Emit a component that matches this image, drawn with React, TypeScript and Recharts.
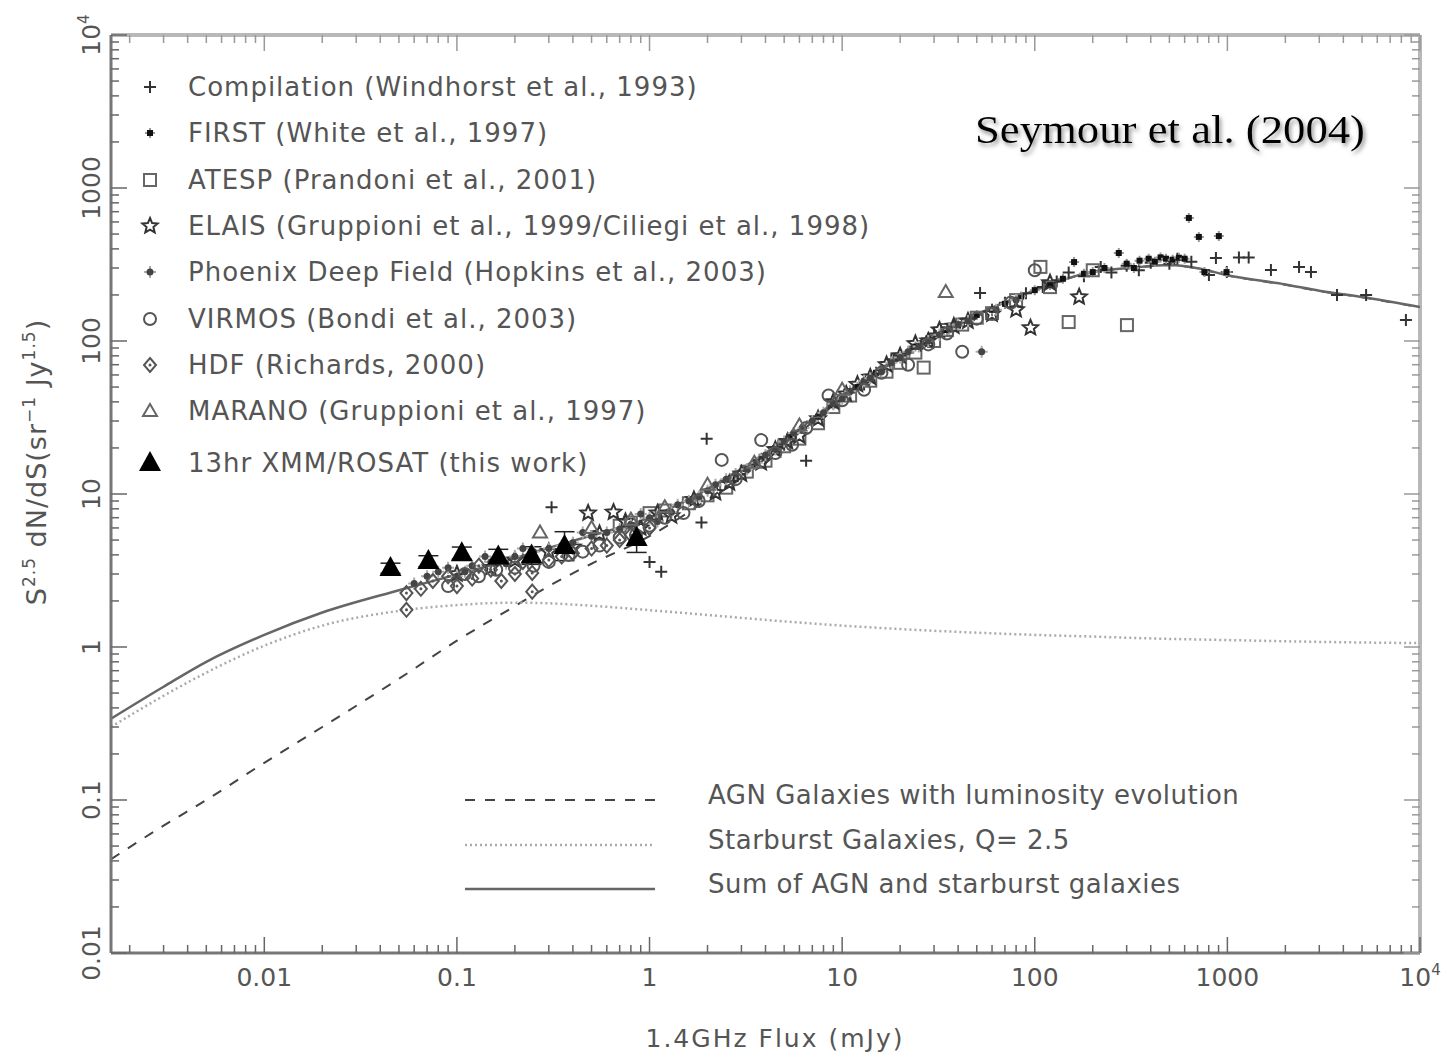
import React from "react";
import {
  ComposedChart,
  Scatter,
  Line,
  XAxis,
  YAxis,
  ReferenceLine,
  ErrorBar,
  Legend,
} from "recharts";

const WIDTH = 1449;
const HEIGHT = 1054;
// plot box, page pixels
const PLOT_LEFT = 111;
const PLOT_TOP = 35;
const PLOT_RIGHT = 1420;
const PLOT_BOTTOM = 953;

const FONT = "'DejaVu Sans', sans-serif";
const TEXT = "#555";
const INK = "#333";

const X_DOMAIN = [0.0016, 10000];
const Y_DOMAIN = [0.01, 10000];

// model curves (flux in mJy, Euclidean-normalised counts)
const modelFlux = [
  0.0016, 0.003, 0.005, 0.01, 0.02, 0.05, 0.1, 0.2, 0.3, 0.5, 1, 2, 5, 10, 20,
  50, 100, 200, 300, 500, 700, 1000, 2000, 3000, 5000, 10000,
];
const agnCounts = [
  0.041, 0.068, 0.1, 0.175, 0.3, 0.62, 1.1, 1.85, 2.5, 3.5, 5.3, 9.2, 21, 42,
  78, 148, 213, 283, 298, 313, 298, 268, 233, 212, 193, 166,
];
const starburstCounts = [
  0.3, 0.48, 0.68, 1.02, 1.38, 1.72, 1.88, 1.95, 1.93, 1.86, 1.74, 1.62, 1.47,
  1.38, 1.31, 1.24, 1.2, 1.17, 1.15, 1.13, 1.12, 1.11, 1.09, 1.08, 1.07, 1.06,
];
const sumCounts = [
  0.34, 0.55, 0.8, 1.2, 1.68, 2.35, 2.98, 3.8, 4.45, 5.35, 7.0, 10.8, 22.5,
  43.4, 79.3, 149, 214, 284, 299, 314, 299, 269, 234, 213, 194, 167,
];

// source counts, [flux mJy, counts]
const windhorst = [
  [0.31, 8.2], [1.0, 3.6], [1.15, 3.1], [1.86, 6.5], [1.98, 23], [2.5, 12],
  [3, 13.5], [4, 17], [5, 21], [6.5, 16.5], [7, 30], [9, 40], [11, 46],
  [13, 52], [15, 62], [18, 76], [22, 84], [26, 96], [30, 112], [38, 125],
  [45, 140], [52, 206], [60, 160], [70, 178], [90, 205], [110, 225],
  [130, 245], [150, 280], [180, 265], [220, 305], [250, 280], [300, 310],
  [347, 290], [400, 325], [500, 320], [550, 345], [650, 330], [802, 270],
  [872, 349], [993, 282], [1148, 352], [1290, 352], [1683, 291], [2355, 305],
  [2716, 282], [3707, 200], [5250, 200], [8450, 137],
];
const first = [
  [2.8, 12.5], [3.5, 15.5], [4.5, 20], [5.5, 24], [7.5, 32], [9, 38],
  [12, 50], [15, 62], [19, 78], [24, 92], [28, 104], [35, 118], [40, 126],
  [50, 148], [60, 160], [70, 175], [85, 195], [100, 215], [120, 232],
  [140, 255], [160, 328], [180, 275], [200, 282], [230, 300], [273, 376],
  [300, 320], [327, 300], [350, 335], [390, 345], [420, 330], [450, 352],
  [480, 345], [520, 340], [560, 350], [600, 345], [631, 637], [711, 479],
  [760, 282], [903, 485], [990, 282],
];
const atesp = [
  [0.7, 6.2], [0.8, 6.5], [1.0, 7.5], [1.2, 7.8], [1.6, 8.7], [2, 9.8],
  [2.5, 11], [3.2, 14], [4, 16.5], [5, 20.5], [6, 23], [7.5, 29], [9, 37],
  [11, 44], [14, 55], [17, 63], [20, 72], [24, 84], [26.5, 67], [30, 100],
  [35, 118], [42, 128], [50, 142], [60, 152], [80, 185], [107, 305],
  [120, 225], [150, 133], [200, 290], [301, 127],
];
const elais = [
  [0.1, 3.0], [0.15, 3.3], [0.2, 3.7], [0.3, 4.2], [0.4, 4.5], [0.48, 7.5],
  [0.55, 5.5], [0.65, 7.6], [0.75, 6.6], [0.9, 6.0], [1.1, 7.5], [1.3, 7.2],
  [1.7, 9.2], [2.2, 10.2], [2.6, 11.8], [3.0, 13.5], [3.8, 16], [4.5, 19.5],
  [5.2, 22], [6, 24], [7.5, 31], [9, 40], [10.5, 45], [12, 52], [14, 58],
  [17, 70], [20, 80], [24, 96], [28, 100], [32, 118], [38, 125], [45, 135],
  [60, 150], [80, 160], [95, 122], [120, 240], [170, 194],
];
const phoenix = [
  [0.06, 2.6], [0.07, 2.9], [0.08, 3.1], [0.09, 3.3], [0.1, 2.9], [0.11, 3.1],
  [0.12, 3.4], [0.14, 3.9], [0.15, 3.6], [0.18, 3.5], [0.2, 3.9], [0.22, 4.4],
  [0.25, 4.2], [0.3, 4.4], [0.35, 4.6], [0.4, 4.8], [0.45, 5.6], [0.5, 5.3],
  [0.6, 5.6], [0.7, 5.9], [0.8, 6.3], [0.9, 7.4], [1.0, 7.0], [1.1, 6.6],
  [1.3, 7.6], [1.4, 8.5], [1.6, 9.0], [1.8, 9.6], [2.0, 10.5], [2.2, 11.5],
  [2.5, 12.5], [2.8, 13.5], [3.2, 14.5], [3.6, 16], [4, 18], [4.5, 19.5],
  [5, 22], [5.6, 25], [6.3, 27], [7, 30], [8, 34], [9, 39], [10, 42],
  [11, 47], [13, 55], [14, 57], [16, 63], [18, 72], [20, 78], [22, 85],
  [25, 92], [28, 100], [32, 110], [36, 120], [40, 128], [45, 135], [53, 85],
  [63, 160], [80, 185],
];
const virmos = [
  [0.09, 2.5], [0.11, 3.0], [0.13, 2.9], [0.16, 3.2], [0.2, 3.3],
  [0.25, 3.4], [0.3, 3.6], [0.38, 4.0], [0.45, 4.2], [0.55, 4.6],
  [0.7, 5.2], [0.85, 5.4], [1.0, 6.2], [1.2, 7], [1.5, 7.5], [1.8, 9],
  [2.37, 16.7], [2.8, 12.5], [3.8, 22.5], [4.5, 18.5], [5.5, 21],
  [6.5, 27], [8.5, 44], [10, 41], [13, 48], [16, 62], [22, 70], [28, 95],
  [35, 112], [42, 85], [50, 140], [60, 150], [75, 178], [100, 290],
];
const hdf = [
  [0.0547, 2.25], [0.0547, 1.75], [0.065, 2.4], [0.075, 2.7], [0.09, 2.9],
  [0.1, 2.5], [0.12, 2.8], [0.13, 3.4], [0.15, 3.2], [0.17, 2.7], [0.2, 3.0],
  [0.22, 3.6], [0.246, 3.05], [0.246, 2.3], [0.3, 3.7], [0.35, 3.9],
  [0.4, 4.1], [0.5, 4.4], [0.6, 4.6], [0.7, 5.0], [0.8, 5.4], [1.0, 6.0],
];
const marano = [
  [0.27, 5.6], [0.5, 6.0], [0.8, 6.8], [1.2, 8.2], [2, 11.5], [3.5, 16],
  [6, 28], [10, 48], [34.5, 209],
];
// this work, with 1-sigma errors [below, above]
const xmmFlux = [0.0452, 0.0711, 0.106, 0.164, 0.244, 0.362, 0.857];
const xmmCounts = [3.28, 3.65, 4.1, 3.9, 3.97, 4.57, 5.15];
const xmmErr = [
  [0.25, 0.25], [0.3, 0.3], [0.35, 0.4], [0.4, 0.45], [0.5, 0.55],
  [0.9, 1.1], [1.0, 1.2],
];

const toPoints = (rows: number[][]) => rows.map(([f, v]) => ({ f, v }));
const curve = (vals: number[]) => modelFlux.map((f, i) => ({ f, v: vals[i] }));
const xmmData = xmmFlux.map((f, i) => ({ f, v: xmmCounts[i], err: xmmErr[i] }));

// ---- marker shapes ----
type P = { cx?: number; cy?: number };
const plusShape = ({ cx = 0, cy = 0 }: P) => (
  <path d={`M${cx - 6},${cy}H${cx + 6}M${cx},${cy - 6}V${cy + 6}`} stroke={INK} strokeWidth={2} fill="none" />
);
const firstShape = ({ cx = 0, cy = 0 }: P) => (
  <g>
    <path d={`M${cx - 5},${cy}H${cx + 5}M${cx},${cy - 5}V${cy + 5}`} stroke="#999" strokeWidth={2} />
    <rect x={cx - 3} y={cy - 3} width={6} height={6} fill="#111" />
  </g>
);
const squareShape = ({ cx = 0, cy = 0 }: P) => (
  <rect x={cx - 6} y={cy - 6} width={12} height={12} fill="none" stroke="#666" strokeWidth={2} />
);
const starPath = (cx: number, cy: number, r: number) => {
  let d = "";
  for (let i = 0; i < 10; i++) {
    const rr = i % 2 === 0 ? r : r * 0.45;
    const a = -Math.PI / 2 + (i * Math.PI) / 5;
    d += `${i === 0 ? "M" : "L"}${cx + rr * Math.cos(a)},${cy + rr * Math.sin(a)}`;
  }
  return d + "Z";
};
const starShape = ({ cx = 0, cy = 0 }: P) => (
  <path d={starPath(cx, cy, 8)} fill="none" stroke={INK} strokeWidth={2} />
);
const phoenixShape = ({ cx = 0, cy = 0 }: P) => (
  <g>
    <path d={`M${cx - 6},${cy}H${cx + 6}M${cx},${cy - 6}V${cy + 6}`} stroke="#aaa" strokeWidth={2} />
    <circle cx={cx} cy={cy} r={3.5} fill="#444" />
  </g>
);
const circleShape = ({ cx = 0, cy = 0 }: P) => (
  <circle cx={cx} cy={cy} r={6} fill="none" stroke="#555" strokeWidth={2} />
);
const diamondShape = ({ cx = 0, cy = 0 }: P) => (
  <g>
    <path d={`M${cx},${cy - 7}L${cx + 6},${cy}L${cx},${cy + 7}L${cx - 6},${cy}Z`} fill="none" stroke="#555" strokeWidth={2} />
    <circle cx={cx} cy={cy} r={1.5} fill="#555" />
  </g>
);
const openTriShape = ({ cx = 0, cy = 0 }: P) => (
  <path d={`M${cx},${cy - 7}L${cx + 7},${cy + 5}L${cx - 7},${cy + 5}Z`} fill="none" stroke="#666" strokeWidth={2} />
);
const fillTriShape = ({ cx = 0, cy = 0 }: P) => (
  <path d={`M${cx},${cy - 12}L${cx + 11},${cy + 8}L${cx - 11},${cy + 8}Z`} fill="#000" />
);

const surveys = [
  { name: "Compilation (Windhorst et al., 1993)", data: windhorst, shape: plusShape },
  { name: "FIRST (White et al., 1997)", data: first, shape: firstShape },
  { name: "ATESP (Prandoni et al., 2001)", data: atesp, shape: squareShape },
  { name: "ELAIS (Gruppioni et al., 1999/Ciliegi et al., 1998)", data: elais, shape: starShape },
  { name: "Phoenix Deep Field (Hopkins et al., 2003)", data: phoenix, shape: phoenixShape },
  { name: "VIRMOS (Bondi et al., 2003)", data: virmos, shape: circleShape },
  { name: "HDF (Richards, 2000)", data: hdf, shape: diamondShape },
  { name: "MARANO (Gruppioni et al., 1997)", data: marano, shape: openTriShape },
];
const xmmName = "13hr XMM/ROSAT (this work)";

const models = [
  { name: "AGN Galaxies with luminosity evolution", vals: agnCounts, stroke: "#444", width: 2, dash: "10 10" },
  { name: "Starburst Galaxies, Q= 2.5", vals: starburstCounts, stroke: "#aaa", width: 2.5, dash: "2 3" },
  { name: "Sum of AGN and starburst galaxies", vals: sumCounts, stroke: "#666", width: 2.5, dash: undefined },
];

// ---- axes ----
const decadeTicks = (lo: number, hi: number) => {
  const out: number[] = [];
  for (let d = -3; d <= 4; d++) {
    for (let m = 1; m <= 9; m++) {
      const t = Number((m * Math.pow(10, d)).toPrecision(3));
      if (t >= lo && t <= hi) out.push(t);
    }
  }
  return out;
};
const xTicks = decadeTicks(X_DOMAIN[0], X_DOMAIN[1]);
const yTicks = decadeTicks(Y_DOMAIN[0], Y_DOMAIN[1]);
const majorLabels: Record<string, string> = {
  "0.01": "0.01", "0.1": "0.1", "1": "1", "10": "10", "100": "100", "1000": "1000",
};
const isMajor = (v: number) => Math.abs(Math.log10(v) - Math.round(Math.log10(v))) < 1e-6;

const tickLabel = (v: number) =>
  v === 10000 ? (
    <>
      10<tspan dy={-11} fontSize={15}>4</tspan>
    </>
  ) : (
    majorLabels[String(v)]
  );

const XTick = (props: any) => {
  const { x, payload } = props;
  const v = payload.value as number;
  const major = isMajor(v);
  const len = major ? 16 : 8;
  return (
    <g>
      <line x1={x} x2={x} y1={PLOT_BOTTOM} y2={PLOT_BOTTOM - len} stroke="#666" strokeWidth={1.5} />
      <line x1={x} x2={x} y1={PLOT_TOP} y2={PLOT_TOP + len} stroke="#999" strokeWidth={1.5} />
      {major && (
        <text x={x} y={PLOT_BOTTOM + 33} textAnchor="middle" fontSize={25} fill={TEXT} fontFamily={FONT}>
          {tickLabel(v)}
        </text>
      )}
    </g>
  );
};

const YTick = (props: any) => {
  const { y, payload } = props;
  const v = payload.value as number;
  const major = isMajor(v);
  const len = major ? 16 : 8;
  return (
    <g>
      <line x1={PLOT_LEFT} x2={PLOT_LEFT + len} y1={y} y2={y} stroke="#666" strokeWidth={1.5} />
      <line x1={PLOT_RIGHT} x2={PLOT_RIGHT - len} y1={y} y2={y} stroke="#999" strokeWidth={1.5} />
      {major && (
        <text
          transform={`translate(${100},${y}) rotate(-90)`}
          textAnchor="middle"
          fontSize={25}
          fill={TEXT}
          fontFamily={FONT}
        >
          {tickLabel(v)}
        </text>
      )}
    </g>
  );
};

// ---- legends, axis titles and annotation ----
const legendRows = [87, 133, 180, 226, 272, 319, 365, 411, 463];
const lineRows = [800, 845, 889];

const Overlay = () => (
  <svg width={WIDTH} height={HEIGHT} style={{ position: "absolute", left: 0, top: 0 }}>
    <defs>
      <filter id="soft-shadow" x="-10%" y="-30%" width="120%" height="160%">
        <feDropShadow dx={2} dy={3} stdDeviation={2} floodColor="#777" floodOpacity={0.8} />
      </filter>
    </defs>
    <g fontFamily={FONT} fontSize={26} fill={TEXT} letterSpacing={1}>
      {surveys.map((s, i) => (
        <g key={s.name}>
          {s.shape({ cx: 150, cy: legendRows[i] })}
          <text x={188} y={legendRows[i] + 9}>{s.name}</text>
        </g>
      ))}
      {fillTriShape({ cx: 150, cy: legendRows[8] })}
      <text x={188} y={legendRows[8] + 9}>{xmmName}</text>

      {models.map((m, i) => (
        <g key={m.name}>
          <line x1={465} x2={655} y1={lineRows[i]} y2={lineRows[i]} stroke={m.stroke} strokeWidth={m.width} strokeDasharray={m.dash} />
          <text x={708} y={lineRows[i] + 4} letterSpacing={0.5}>{m.name}</text>
        </g>
      ))}

      <text x={775} y={1047} textAnchor="middle" fontSize={25} letterSpacing={2}>1.4GHz Flux (mJy)</text>
      <text transform="translate(46,462) rotate(-90)" textAnchor="middle" fontSize={27}>
        S<tspan dy={-11} fontSize={17}>2.5</tspan>
        <tspan dy={11}> dN/dS(sr</tspan>
        <tspan dy={-11} fontSize={17}>−1</tspan>
        <tspan dy={11}> Jy</tspan>
        <tspan dy={-11} fontSize={17}>1.5</tspan>
        <tspan dy={11}>)</tspan>
      </text>
    </g>
    <text
      x={975}
      y={143}
      fontFamily="'Liberation Serif', serif"
      fontSize={40}
      fill="#000"
      textLength={390}
      lengthAdjust="spacingAndGlyphs"
      filter="url(#soft-shadow)"
    >
      Seymour et al. (2004)
    </text>
  </svg>
);

export default function App() {
  return (
    <div style={{ position: "absolute", left: 0, top: 0, width: WIDTH, height: HEIGHT, background: "#fff" }}>
      <ComposedChart
        width={WIDTH}
        height={HEIGHT}
        margin={{ top: PLOT_TOP, right: WIDTH - PLOT_RIGHT, bottom: 0, left: 0 }}
      >
        <XAxis
          type="number"
          dataKey="f"
          scale="log"
          domain={X_DOMAIN}
          allowDataOverflow
          ticks={xTicks}
          interval={0}
          tick={XTick}
          tickLine={false}
          axisLine={{ stroke: "#777", strokeWidth: 3 }}
          height={HEIGHT - PLOT_BOTTOM}
        />
        <YAxis
          type="number"
          dataKey="v"
          scale="log"
          domain={Y_DOMAIN}
          allowDataOverflow
          ticks={yTicks}
          interval={0}
          tick={YTick}
          tickLine={false}
          axisLine={{ stroke: "#777", strokeWidth: 3 }}
          width={PLOT_LEFT}
        />
        <ReferenceLine y={10000} stroke="#b8b8b8" strokeWidth={4} />
        <ReferenceLine x={10000} stroke="#b8b8b8" strokeWidth={4} />

        {models.map((m) => (
          <Line
            key={m.name}
            name={m.name}
            data={curve(m.vals)}
            dataKey="v"
            type="monotone"
            stroke={m.stroke}
            strokeWidth={m.width}
            strokeDasharray={m.dash}
            dot={false}
            activeDot={false}
            isAnimationActive={false}
          />
        ))}

        {surveys.map((s) => (
          <Scatter
            key={s.name}
            name={s.name}
            data={toPoints(s.data)}
            shape={s.shape}
            isAnimationActive={false}
          />
        ))}

        <Scatter name={xmmName} data={xmmData} shape={fillTriShape} isAnimationActive={false}>
          <ErrorBar dataKey="err" direction="y" width={10} stroke="#222" strokeWidth={1.5} />
        </Scatter>

        <Legend
          layout="vertical"
          align="center"
          verticalAlign="middle"
          wrapperStyle={{ left: 0, top: 0, width: WIDTH, height: HEIGHT, pointerEvents: "none" }}
          content={() => <Overlay />}
        />
      </ComposedChart>
    </div>
  );
}
